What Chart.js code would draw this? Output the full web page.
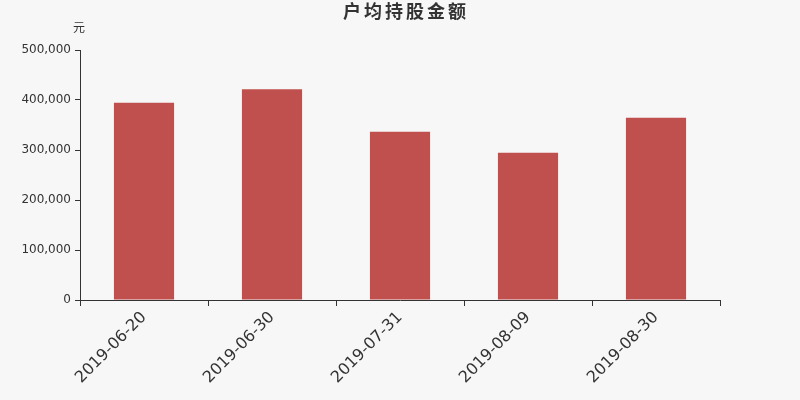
<!DOCTYPE html>
<html>
<head>
<meta charset="utf-8">
<script src="https://cdn.jsdelivr.net/npm/chart.js@4/dist/chart.umd.min.js"></script>
<style>
  html, body { margin: 0; padding: 0; background: #f7f7f7; }
  #wrap { width: 800px; height: 400px; }
</style>
</head>
<body>
<div id="wrap"><canvas id="chart"></canvas></div>
<script>
const chartTitle = "户均持股金额";
const unitLabel = "元";
const categories = ["2019-06-20", "2019-06-30", "2019-07-31", "2019-08-09", "2019-08-30"];
const holdingValues = [394600, 421400, 336600, 294600, 364600];
const yTicks = [0, 100000, 200000, 300000, 400000, 500000];

const FONT = "'DejaVu Sans', 'Noto Sans CJK SC', sans-serif";

const overlayText = {
  id: "overlayText",
  afterDraw(chart) {
    const ctx = chart.ctx;
    ctx.save();
    ctx.fillStyle = "#333";
    ctx.textAlign = "left";
    ctx.textBaseline = "middle";
    ctx.font = "bold 18px " + FONT;
    ctx.letterSpacing = "3px";
    ctx.fillText(chartTitle, 343, 13);
    ctx.letterSpacing = "0px";
    ctx.textAlign = "center";
    ctx.font = "12px " + FONT;
    ctx.fillText(unitLabel, 79, 29);
    ctx.restore();
  },
};

new Chart(document.getElementById("chart"), {
  type: "bar",
  data: {
    labels: categories,
    datasets: [{
      data: holdingValues,
      backgroundColor: "#c0504d",
      barPercentage: 0.47,
      categoryPercentage: 1,
    }],
  },
  options: {
    responsive: true,
    maintainAspectRatio: false,
    animation: false,
    layout: { padding: { top: 50, right: 80, left: 0, bottom: 0 } },
    plugins: {
      legend: { display: false },
      tooltip: { enabled: false },
    },
    scales: {
      x: {
        offset: true,
        grid: { offset: true, drawOnChartArea: false, tickLength: 6, color: "#333" },
        border: { color: "#333", width: 1 },
        ticks: {
          color: "#333",
          font: { family: FONT, size: 16 },
          maxRotation: 45,
          minRotation: 45,
          padding: 2,
        },
        afterFit(scale) { scale.height = 100; },
      },
      y: {
        min: 0,
        max: 500000,
        afterBuildTicks(scale) { scale.ticks = yTicks.map((v) => ({ value: v })); },
        grid: { drawOnChartArea: false, tickLength: 5, color: "#333" },
        border: { color: "#333", width: 1 },
        ticks: {
          color: "#333",
          font: { family: FONT, size: 12 },
          padding: 4,
          callback: (v) => v.toLocaleString("en-US"),
        },
        afterFit(scale) { scale.width = 80; },
      },
    },
  },
  plugins: [overlayText],
});
</script>
</body>
</html>
